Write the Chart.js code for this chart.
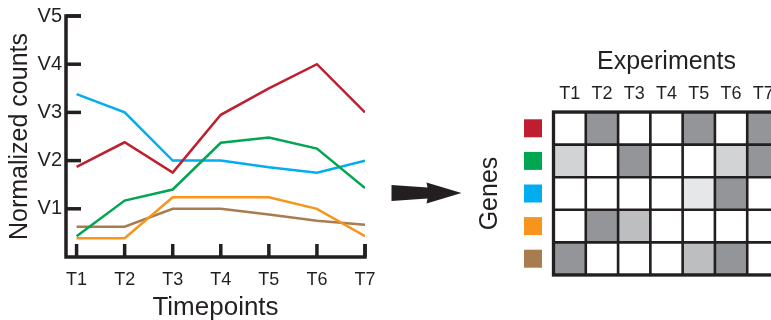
<!DOCTYPE html>
<html>
<head>
<meta charset="utf-8">
<script src="https://cdn.jsdelivr.net/npm/chart.js@4.4.1/dist/chart.umd.min.js"></script>
<style>
  html, body { margin: 0; padding: 0; background: #fff; overflow: hidden; width: 771px; height: 320px; }
  #lineChart { position: absolute; left: 0; top: 0; }
  #heatChart { position: absolute; left: 380px; top: 0; }
</style>
</head>
<body>
<canvas id="lineChart" width="390" height="320"></canvas>
<canvas id="heatChart" width="420" height="320"></canvas>
<script>
// data
const timepoints = ['T1', 'T2', 'T3', 'T4', 'T5', 'T6', 'T7'];
const countLabels = ['V1', 'V2', 'V3', 'V4', 'V5'];

const redCounts    = [1.87, 2.38, 1.75, 2.95, 3.5, 4.0, 3.0];
const greenCounts  = [0.43, 1.17, 1.4, 2.37, 2.48, 2.25, 1.43];
const blueCounts   = [3.38, 3.0, 2.0, 2.0, 1.86, 1.75, 2.0];
const orangeCounts = [0.39, 0.39, 1.24, 1.24, 1.24, 1.0, 0.43];
const brownCounts  = [0.63, 0.63, 1.0, 1.0, 0.88, 0.75, 0.67];

const genes = ['Gene 1', 'Gene 2', 'Gene 3', 'Gene 4', 'Gene 5'];
const geneColors = ['#be1e2d', '#00a651', '#00aeef', '#f7941d', '#a97c50'];

// heat level per experiment (0 = white ... 4 = dark grey)
const redHeat    = [0, 4, 0, 0, 4, 0, 4];
const greenHeat  = [2, 0, 4, 0, 0, 2, 4];
const blueHeat   = [0, 0, 0, 0, 1, 4, 0];
const orangeHeat = [0, 4, 3, 0, 0, 0, 0];
const brownHeat  = [4, 0, 0, 0, 3, 4, 0];
const shades = ['#ffffff', '#e6e7e8', '#d1d3d4', '#bcbec0', '#939598'];

const ink = '#231f20';
const family = "'Liberation Sans', Arial, Helvetica, sans-serif";

// ---------- line chart ----------
const lineSeries = [redCounts, greenCounts, blueCounts, orangeCounts, brownCounts];

// axis drawn as an L with ticks pointing inward
const inwardAxes = {
    id: 'inwardAxes',
    beforeDatasetsDraw(chart) {
        const { ctx, chartArea: a, scales: { x, y } } = chart;
        ctx.save();
        ctx.strokeStyle = ink;
        ctx.lineWidth = 3.5;
        ctx.lineJoin = 'miter';
        ctx.beginPath();
        ctx.moveTo(a.left + 15, a.top);
        ctx.lineTo(a.left, a.top);
        ctx.lineTo(a.left, a.bottom);
        ctx.lineTo(a.right, a.bottom);
        ctx.lineTo(a.right, a.bottom - 13);
        ctx.stroke();
        y.ticks.forEach(t => {
            const py = y.getPixelForValue(t.value);
            ctx.beginPath();
            ctx.moveTo(a.left, py);
            ctx.lineTo(a.left + 15, py);
            ctx.stroke();
        });
        x.ticks.forEach(t => {
            const px = x.getPixelForValue(t.value);
            ctx.beginPath();
            ctx.moveTo(px, a.bottom);
            ctx.lineTo(px, a.bottom - 13);
            ctx.stroke();
        });
        ctx.restore();
    }
};

new Chart(document.getElementById('lineChart'), {
    type: 'line',
    data: {
        datasets: lineSeries.map((vals, i) => ({
            label: genes[i],
            data: vals.map((v, j) => ({ x: j + 1, y: v })),
            borderColor: geneColors[i],
            borderWidth: 2.5,
            pointRadius: 0,
            tension: 0,
            fill: false
        }))
    },
    options: {
        responsive: false,
        animation: false,
        layout: { padding: { left: 0, top: 16, right: 25, bottom: 0 } },
        plugins: { legend: { display: false }, tooltip: { enabled: false } },
        scales: {
            x: {
                type: 'linear',
                min: 0.78,
                max: 7,
                afterBuildTicks: s => { s.ticks = timepoints.map((t, i) => ({ value: i + 1 })); },
                afterFit: s => { s.height = 63; },
                grid: { display: false, drawTicks: false },
                border: { display: false },
                ticks: {
                    callback: (v, i) => timepoints[i],
                    autoSkip: false, maxRotation: 0,
                    font: { size: 18, family }, color: ink, padding: 12
                },
                title: {
                    display: true, text: 'Timepoints', color: ink,
                    font: { size: 26, family }, padding: { top: 0, bottom: -3 }
                }
            },
            y: {
                min: 0,
                max: 5,
                afterBuildTicks: s => { s.ticks = countLabels.map((t, i) => ({ value: i + 1 })); },
                afterFit: s => { s.width = 66; },
                grid: { display: false, drawTicks: false },
                border: { display: false },
                ticks: {
                    callback: (v, i) => countLabels[i],
                    font: { size: 20, family }, color: ink, padding: 4
                },
                title: {
                    display: true, text: 'Normalized counts', color: ink,
                    font: { size: 25, family }, padding: { top: 5, bottom: 0 }
                }
            }
        }
    },
    plugins: [inwardAxes]
});

// ---------- heat map ----------
const heatRows = [redHeat, greenHeat, blueHeat, orangeHeat, brownHeat];

const heatExtras = {
    id: 'heatExtras',
    afterDraw(chart) {
        const { ctx, chartArea: a, scales: { y } } = chart;
        ctx.save();
        // outer frame
        ctx.strokeStyle = ink;
        ctx.lineWidth = 3.3;
        ctx.strokeRect(a.left, a.top, a.width, a.height);
        // gene colour keys
        genes.forEach((g, i) => {
            const py = y.getPixelForValue(i);
            ctx.fillStyle = geneColors[i];
            ctx.fillRect(a.left - 29.5, py - 9, 18, 18);
        });
        // arrow
        const tipX = a.left - 92, cy = (a.top + a.bottom) / 2 - 0.5;
        ctx.fillStyle = ink;
        ctx.beginPath();
        ctx.moveTo(tipX - 70, cy - 8);
        ctx.lineTo(tipX - 34, cy - 5.5);
        ctx.lineTo(tipX - 35, cy - 10.5);
        ctx.lineTo(tipX, cy);
        ctx.lineTo(tipX - 35, cy + 10.5);
        ctx.lineTo(tipX - 34, cy + 5.5);
        ctx.lineTo(tipX - 70, cy + 8);
        ctx.closePath();
        ctx.fill();
        ctx.restore();
    }
};

new Chart(document.getElementById('heatChart'), {
    type: 'bar',
    data: {
        labels: genes,
        datasets: timepoints.map((t, j) => ({
            label: t,
            data: genes.map(() => 1),
            backgroundColor: heatRows.map(r => shades[r[j]]),
            borderColor: ink,
            borderWidth: 1.65,
            borderSkipped: false,
            barPercentage: 1,
            categoryPercentage: 1,
            xAxisID: 'x',
            yAxisID: 'y'
        }))
    },
    options: {
        indexAxis: 'y',
        responsive: false,
        animation: false,
        layout: { padding: { left: 0, top: 0, right: 20.5, bottom: 45 } },
        plugins: { legend: { display: false }, tooltip: { enabled: false } },
        scales: {
            x: { type: 'linear', stacked: true, min: 0, max: 7, display: false },
            xTop: {
                type: 'category',
                position: 'top',
                labels: timepoints,
                offset: true,
                afterFit: s => { s.height = 112; },
                grid: { display: false, drawTicks: false },
                border: { display: false },
                ticks: { font: { size: 18, family }, color: ink, padding: 7, maxRotation: 0, autoSkip: false },
                title: {
                    display: true, text: 'Experiments', color: ink,
                    font: { size: 25, family }, padding: { top: 47, bottom: 0 }
                }
            },
            y: {
                type: 'category',
                stacked: true,
                offset: true,
                afterFit: s => { s.width = 173.5; },
                grid: { display: false, drawTicks: false },
                border: { display: false },
                ticks: { display: false },
                title: {
                    display: true, text: 'Genes', color: ink,
                    font: { size: 25, family }, padding: { top: 95, bottom: 0 }
                }
            }
        }
    },
    plugins: [heatExtras]
});
</script>
</body>
</html>
